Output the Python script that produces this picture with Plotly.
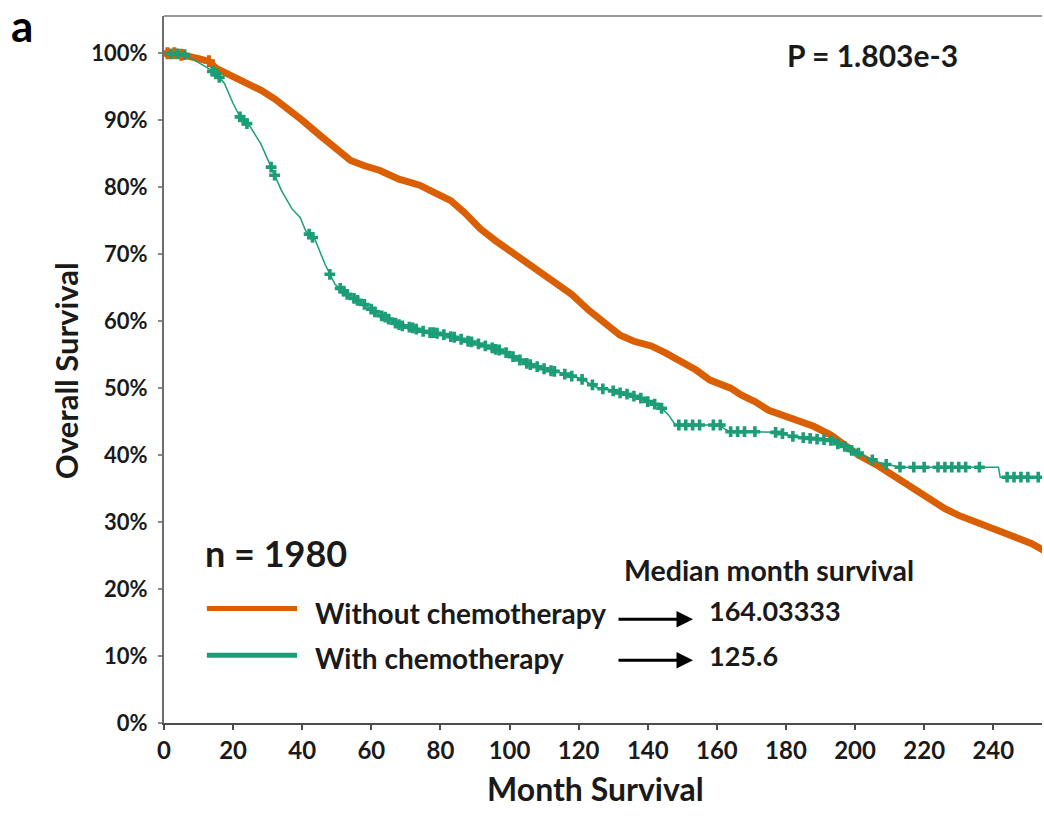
import plotly.graph_objects as go

# Kaplan-Meier curves: overall survival by month, without / with chemotherapy
orange_month = [0, 5, 10, 13, 15, 19, 24, 28, 32, 36.5, 40, 45, 50, 54, 58, 62.5, 68, 74, 79, 83, 87,
                91.5, 96, 100, 106, 112, 118, 123, 128, 132, 136, 141, 145, 149, 154, 158, 164, 167,
                171, 175, 180, 184, 188, 193, 197, 201, 207, 213, 218, 222, 226, 230, 236, 242, 247,
                251, 254.5]
orange_surv = [1.0, 0.998, 0.992, 0.988, 0.978, 0.968, 0.955, 0.945, 0.932, 0.915, 0.9, 0.878, 0.858,
               0.84, 0.832, 0.825, 0.812, 0.803, 0.79, 0.78, 0.762, 0.738, 0.72, 0.706, 0.685, 0.661,
               0.64, 0.616, 0.595, 0.579, 0.57, 0.563, 0.553, 0.542, 0.527, 0.512, 0.5, 0.49, 0.48,
               0.467, 0.457, 0.451, 0.443, 0.43, 0.415, 0.4, 0.383, 0.363, 0.348, 0.333, 0.32, 0.31,
               0.298, 0.288, 0.278, 0.268, 0.258]
orange_censor_month = [1, 3, 5, 13]
orange_censor_surv = [1.0, 1.0, 0.998, 0.988]

green_month = [0, 6, 12, 15, 17.5, 20, 22, 25, 28, 30.7, 34, 37, 39.4, 41, 43.7, 46.6, 49.5, 53.8, 58,
               62.5, 68.3, 75, 82.8, 90, 97.2, 106, 113, 120.4, 125.6, 129, 133, 137.8, 141, 143.6,
               146, 148, 155, 161, 162, 163.8, 170, 178, 180, 184, 188, 192.8, 197, 201.4, 204, 207,
               210, 213, 241.5, 242, 254.5]
green_surv = [1.0, 0.998, 0.98, 0.97, 0.955, 0.925, 0.905, 0.89, 0.865, 0.833, 0.795, 0.768, 0.755,
              0.735, 0.722, 0.685, 0.655, 0.637, 0.625, 0.609, 0.594, 0.585, 0.578, 0.567, 0.557,
              0.535, 0.525, 0.515, 0.5, 0.498, 0.492, 0.486, 0.478, 0.472, 0.46, 0.445, 0.445, 0.445,
              0.44, 0.435, 0.435, 0.434, 0.43, 0.427, 0.425, 0.422, 0.413, 0.402, 0.395, 0.389, 0.385,
              0.382, 0.382, 0.367, 0.367]
green_censor_month = [2, 4, 6, 14, 15, 16, 22, 23, 24, 31, 32, 42, 43, 48, 51, 52, 53, 55, 56, 58, 60,
                      61, 63, 64, 65, 67, 68, 69, 71, 72, 73, 75, 77, 78, 79, 81, 83, 84, 86, 88, 89,
                      91, 93, 95, 96, 97, 99, 101, 103, 105, 106, 108, 110, 112, 113, 116, 118, 121,
                      124, 127, 130, 132, 134, 136, 138, 140, 142, 144, 149, 151, 153, 155, 159, 161,
                      164, 166, 168, 171, 177, 179, 182, 185, 187, 189, 191, 193, 195, 197, 199, 201,
                      205, 209, 213, 217, 220, 224, 226, 228, 230, 232, 236, 244, 246, 248, 250, 253]
green_censor_surv = [0.999, 0.999, 0.998, 0.973, 0.97, 0.964, 0.905, 0.9, 0.895, 0.83, 0.818, 0.73,
                     0.725, 0.67, 0.649, 0.645, 0.64, 0.634, 0.631, 0.625, 0.618, 0.614, 0.608, 0.606,
                     0.603, 0.597, 0.595, 0.593, 0.591, 0.59, 0.588, 0.585, 0.583, 0.583, 0.582, 0.58,
                     0.577, 0.576, 0.573, 0.57, 0.569, 0.566, 0.563, 0.56, 0.558, 0.557, 0.553, 0.547,
                     0.542, 0.537, 0.535, 0.532, 0.529, 0.526, 0.525, 0.521, 0.518, 0.513, 0.505,
                     0.499, 0.496, 0.493, 0.491, 0.488, 0.485, 0.48, 0.476, 0.47, 0.445, 0.445, 0.445,
                     0.445, 0.445, 0.445, 0.435, 0.435, 0.435, 0.435, 0.434, 0.432, 0.428, 0.426,
                     0.425, 0.424, 0.423, 0.422, 0.417, 0.413, 0.407, 0.403, 0.393, 0.386, 0.382,
                     0.382, 0.382, 0.382, 0.382, 0.382, 0.382, 0.382, 0.382, 0.367, 0.367, 0.367,
                     0.367, 0.367]

x_ticks = [0, 20, 40, 60, 80, 100, 120, 140, 160, 180, 200, 220, 240]
y_ticks = [0, 0.1, 0.2, 0.3, 0.4, 0.5, 0.6, 0.7, 0.8, 0.9, 1.0]
y_tick_text = ["0%", "10%", "20%", "30%", "40%", "50%", "60%", "70%", "80%", "90%", "100%"]

groups = ["Without chemotherapy", "With chemotherapy"]
median_months = ["164.03333", "125.6"]
n_patients = 1980
p_value = "1.803e-3"

ORANGE = "#D95F02"
GREEN = "#1B9E77"
TEXT = "#1a1a1a"
FONT = "Lato, Open Sans, sans-serif"

fig = go.Figure()

fig.add_trace(go.Scatter(x=orange_month, y=orange_surv, mode="lines",
                         line=dict(color=ORANGE, width=7), showlegend=False, name=groups[0]))
fig.add_trace(go.Scatter(x=orange_censor_month, y=orange_censor_surv, mode="markers",
                         marker=dict(symbol="cross", size=10, color=ORANGE), showlegend=False))
fig.add_trace(go.Scatter(x=green_month, y=green_surv, mode="lines",
                         line=dict(color=GREEN, width=1.5), showlegend=False, name=groups[1]))
fig.add_trace(go.Scatter(x=green_censor_month, y=green_censor_surv, mode="markers",
                         marker=dict(symbol="cross", size=9, color=GREEN), showlegend=False))

annotations = []
shapes = []


def bold(size, color=TEXT):
    return dict(family=FONT, size=size, color=color, weight="bold")


# key: coloured lines with group names, arrows to the median survival
legend_rows = [(ORANGE, 0.171, 0.164, 0.155), (GREEN, 0.101, 0.0967, 0.0937)]
for (color, y_line, y_text, y_arrow), label, med in zip(legend_rows, groups, median_months):
    shapes.append(dict(type="line", xref="x", yref="y", x0=12.4, x1=38.5, y0=y_line, y1=y_line,
                       line=dict(color=color, width=5)))
    annotations.append(dict(x=43.1, y=y_text, xref="x", yref="y", text=label, showarrow=False,
                            xanchor="left", yanchor="middle", font=bold(28)))
    annotations.append(dict(x=153.1, y=y_arrow, ax=131.1, ay=y_arrow, xref="x", yref="y",
                            axref="x", ayref="y", text="", showarrow=True, arrowhead=2,
                            arrowsize=1.1, arrowwidth=3, arrowcolor="#000"))
    annotations.append(dict(x=157.2, y=y_text + 0.004, xref="x", yref="y", text=med, showarrow=False,
                            xanchor="left", yanchor="middle", font=bold(27)))

annotations.append(dict(x=132.6, y=0.228, xref="x", yref="y", text="Median month survival",
                        showarrow=False, xanchor="left", yanchor="middle", font=bold(28.5)))
annotations.append(dict(x=11.3, y=0.2535, xref="x", yref="y", text=f"n = {n_patients}",
                        showarrow=False, xanchor="left", yanchor="middle", font=bold(36)))
annotations.append(dict(x=179.7, y=0.9975, xref="x", yref="y", text=f"P = {p_value}",
                        showarrow=False, xanchor="left", yanchor="middle", font=bold(30)))
annotations.append(dict(x=-0.177, y=0.987, xref="paper", yref="paper", text="a",
                        showarrow=False, xanchor="left", yanchor="middle", font=bold(44, "#000")))

# axis titles
annotations.append(dict(x=0.491, y=-0.093, xref="paper", yref="paper", text="Month Survival",
                        showarrow=False, xanchor="center", yanchor="middle", font=bold(32)))
annotations.append(dict(x=-0.1116, y=0.4977, xref="paper", yref="paper", text="Overall Survival",
                        showarrow=False, xanchor="center", yanchor="middle", textangle=-90,
                        font=bold(31)))

# light frame line along the top of the plot area
shapes.append(dict(type="line", xref="paper", yref="paper", x0=0, x1=1, y0=1, y1=1,
                   line=dict(color="#9a9a9a", width=2)))

fig.update_layout(
    width=1044, height=817,
    margin=dict(l=164, r=2, t=16, b=94),
    paper_bgcolor="white", plot_bgcolor="white",
    annotations=annotations, shapes=shapes,
    xaxis=dict(range=[0, 254.1], tickvals=x_ticks, ticktext=[str(v) for v in x_ticks],
               showline=True, linecolor="#4d4d4d", linewidth=2, ticks="outside", ticklen=5,
               tickwidth=2, tickcolor="#4d4d4d", showgrid=False, zeroline=False,
               ticklabelstandoff=0, tickfont=bold(24)),
    yaxis=dict(range=[0, 1.0557], tickvals=y_ticks, ticktext=y_tick_text,
               showline=True, linecolor="#6e6e6e", linewidth=2, ticks="outside", ticklen=4,
               tickwidth=1.5, tickcolor="#8a8a8a", showgrid=False, zeroline=False,
               ticklabelstandoff=6, tickfont=bold(22)),
)

fig.write_html("out.html")
